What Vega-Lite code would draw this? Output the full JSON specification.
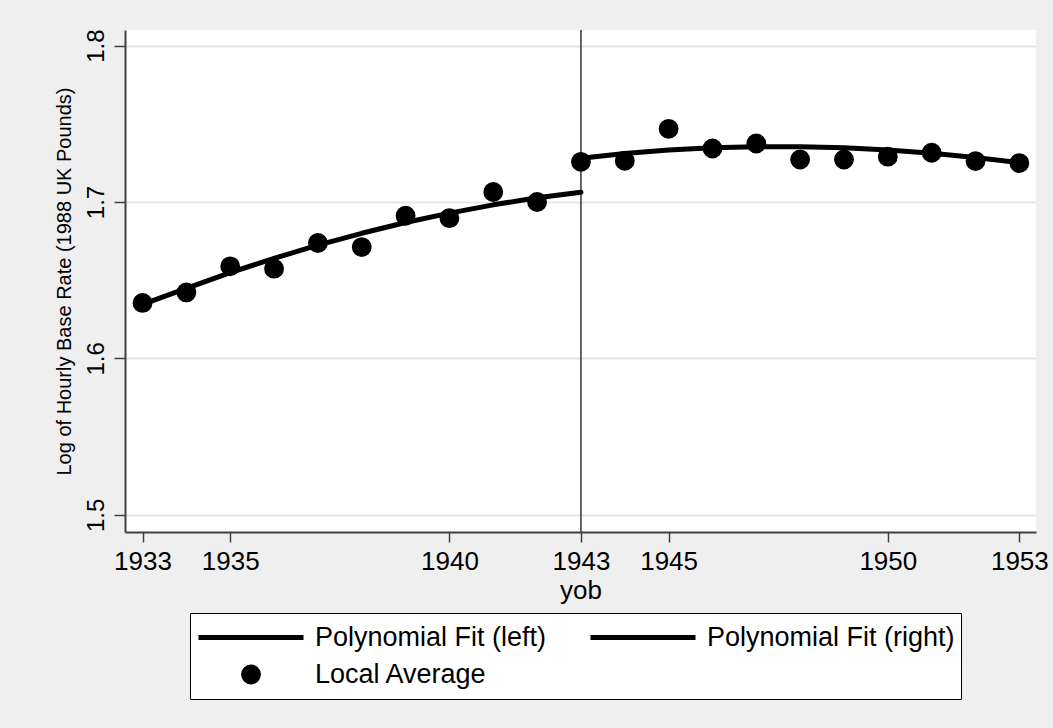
{
  "$schema": "https://vega.github.io/schema/vega-lite/v6.json",
  "width": 911,
  "height": 502,
  "autosize": {"type": "none"},
  "padding": {"left": 125, "top": 30, "right": 17, "bottom": 196},
  "background": "#EFEFEF",
  "config": {"view": {"fill": "white", "stroke": null}, "font": "Liberation Sans"},
  "datasets": {
    "cutoff": [{"yob": 1943}],
    "fit": [
      {"yob": 1933, "val": 1.6345, "series": "Polynomial Fit (left)"},
      {"yob": 1934, "val": 1.6448, "series": "Polynomial Fit (left)"},
      {"yob": 1935, "val": 1.6548, "series": "Polynomial Fit (left)"},
      {"yob": 1936, "val": 1.6640, "series": "Polynomial Fit (left)"},
      {"yob": 1937, "val": 1.6724, "series": "Polynomial Fit (left)"},
      {"yob": 1938, "val": 1.6800, "series": "Polynomial Fit (left)"},
      {"yob": 1939, "val": 1.6869, "series": "Polynomial Fit (left)"},
      {"yob": 1940, "val": 1.6929, "series": "Polynomial Fit (left)"},
      {"yob": 1941, "val": 1.6982, "series": "Polynomial Fit (left)"},
      {"yob": 1942, "val": 1.7027, "series": "Polynomial Fit (left)"},
      {"yob": 1943, "val": 1.7063, "series": "Polynomial Fit (left)"},
      {"yob": 1943, "val": 1.7280, "series": "Polynomial Fit (right)"},
      {"yob": 1944, "val": 1.7310, "series": "Polynomial Fit (right)"},
      {"yob": 1945, "val": 1.7332, "series": "Polynomial Fit (right)"},
      {"yob": 1946, "val": 1.7347, "series": "Polynomial Fit (right)"},
      {"yob": 1947, "val": 1.7354, "series": "Polynomial Fit (right)"},
      {"yob": 1948, "val": 1.7354, "series": "Polynomial Fit (right)"},
      {"yob": 1949, "val": 1.7347, "series": "Polynomial Fit (right)"},
      {"yob": 1950, "val": 1.7333, "series": "Polynomial Fit (right)"},
      {"yob": 1951, "val": 1.7312, "series": "Polynomial Fit (right)"},
      {"yob": 1952, "val": 1.7285, "series": "Polynomial Fit (right)"},
      {"yob": 1953, "val": 1.7252, "series": "Polynomial Fit (right)"}
    ],
    "points": [
      {"yob": 1933, "val": 1.6355, "series": "Local Average"},
      {"yob": 1934, "val": 1.6422, "series": "Local Average"},
      {"yob": 1935, "val": 1.6589, "series": "Local Average"},
      {"yob": 1936, "val": 1.6574, "series": "Local Average"},
      {"yob": 1937, "val": 1.6738, "series": "Local Average"},
      {"yob": 1938, "val": 1.6712, "series": "Local Average"},
      {"yob": 1939, "val": 1.6912, "series": "Local Average"},
      {"yob": 1940, "val": 1.6897, "series": "Local Average"},
      {"yob": 1941, "val": 1.7064, "series": "Local Average"},
      {"yob": 1942, "val": 1.7000, "series": "Local Average"},
      {"yob": 1943, "val": 1.7257, "series": "Local Average"},
      {"yob": 1944, "val": 1.7264, "series": "Local Average"},
      {"yob": 1945, "val": 1.7468, "series": "Local Average"},
      {"yob": 1946, "val": 1.7342, "series": "Local Average"},
      {"yob": 1947, "val": 1.7374, "series": "Local Average"},
      {"yob": 1948, "val": 1.7272, "series": "Local Average"},
      {"yob": 1949, "val": 1.7272, "series": "Local Average"},
      {"yob": 1950, "val": 1.7290, "series": "Local Average"},
      {"yob": 1951, "val": 1.7315, "series": "Local Average"},
      {"yob": 1952, "val": 1.7262, "series": "Local Average"},
      {"yob": 1953, "val": 1.7249, "series": "Local Average"}
    ]
  },
  "encoding": {
    "x": {
      "field": "yob",
      "type": "quantitative",
      "scale": {"domain": [1932.6, 1953.38], "nice": false, "zero": false},
      "axis": {
        "title": "yob",
        "values": [1933, 1935, 1940, 1943, 1945, 1950, 1953],
        "format": "d",
        "grid": false,
        "domainColor": "#404040",
        "domainWidth": 2,
        "tickColor": "#404040",
        "tickWidth": 1.5,
        "tickSize": 10,
        "labelFontSize": 26,
        "labelColor": "black",
        "labelPadding": 6,
        "labelFlush": false,
        "labelOverlap": false,
        "titleFontSize": 26,
        "titleFontWeight": "normal",
        "titleColor": "black",
        "titlePadding": 3
      }
    }
  },
  "layer": [
    {
      "data": {"name": "cutoff"},
      "mark": {"type": "rule", "color": "#333333", "strokeWidth": 1.5},
      "encoding": {}
    },
    {
      "data": {"name": "fit"},
      "mark": {"type": "line", "color": "black", "strokeWidth": 5, "strokeCap": "round", "strokeJoin": "round"},
      "encoding": {
        "y": {
          "field": "val",
          "type": "quantitative",
          "scale": {"domain": [1.489, 1.81], "nice": false, "zero": false},
          "axis": {
            "title": "Log of Hourly Base Rate (1988 UK Pounds)",
            "values": [1.5, 1.6, 1.7, 1.8],
            "format": ".1f",
            "grid": true,
            "gridColor": "#E6E6E6",
            "gridWidth": 2,
            "domainColor": "#404040",
            "domainWidth": 2,
            "tickColor": "#404040",
            "tickWidth": 1.5,
            "tickSize": 11,
            "labelAngle": -90,
            "labelAlign": "center",
            "labelBaseline": "alphabetic",
            "labelFontSize": 24,
            "labelColor": "black",
            "labelPadding": 11,
            "labelFlush": false,
            "titleFontSize": 20,
            "titleFontWeight": "normal",
            "titleColor": "black",
            "titlePadding": 10
          }
        },
        "detail": {"field": "series", "type": "nominal"}
      }
    },
    {
      "data": {"name": "points"},
      "mark": {"type": "point", "filled": true, "fill": "black", "strokeWidth": 5, "opacity": 1, "fillOpacity": 1, "strokeOpacity": 1},
      "encoding": {
        "y": {
          "field": "val",
          "type": "quantitative",
          "scale": {"domain": [1.489, 1.81], "nice": false, "zero": false}
        },
        "stroke": {
          "field": "series",
          "type": "nominal",
          "scale": {"domain": ["Polynomial Fit (left)", "Polynomial Fit (right)", "Local Average"], "range": ["black", "black", "black"]},
          "legend": {
            "title": null,
            "orient": "none",
            "direction": "horizontal",
            "legendX": 65,
            "legendY": 583,
            "columns": 2,
            "columnPadding": 41,
            "rowPadding": 0,
            "clipHeight": 37,
            "padding": 6,
            "strokeColor": "black",
            "fillColor": "white",
            "symbolFillColor": "black",
            "symbolStrokeWidth": 5,
            "symbolOpacity": 1,
            "labelFontSize": 27,
            "labelColor": "black",
            "labelOffset": 9,
            "labelLimit": 500
          }
        },
        "shape": {
          "field": "series",
          "type": "nominal",
          "scale": {"domain": ["Polynomial Fit (left)", "Polynomial Fit (right)", "Local Average"], "range": ["stroke", "stroke", "circle"]},
          "legend": {
            "title": null,
            "orient": "none",
            "direction": "horizontal",
            "legendX": 65,
            "legendY": 583,
            "columns": 2,
            "columnPadding": 41,
            "rowPadding": 0,
            "clipHeight": 37,
            "padding": 6,
            "strokeColor": "black",
            "fillColor": "white",
            "symbolFillColor": "black",
            "symbolStrokeWidth": 5,
            "symbolOpacity": 1,
            "labelFontSize": 27,
            "labelColor": "black",
            "labelOffset": 9,
            "labelLimit": 500
          }
        },
        "size": {
          "field": "series",
          "type": "nominal",
          "scale": {"type": "ordinal", "domain": ["Polynomial Fit (left)", "Polynomial Fit (right)", "Local Average"], "range": [11025, 11025, 220]},
          "legend": {
            "title": null,
            "orient": "none",
            "direction": "horizontal",
            "legendX": 65,
            "legendY": 583,
            "columns": 2,
            "columnPadding": 41,
            "rowPadding": 0,
            "clipHeight": 37,
            "padding": 6,
            "strokeColor": "black",
            "fillColor": "white",
            "symbolFillColor": "black",
            "symbolStrokeWidth": 5,
            "symbolOpacity": 1,
            "labelFontSize": 27,
            "labelColor": "black",
            "labelOffset": 9,
            "labelLimit": 500
          }
        }
      }
    }
  ]
}
